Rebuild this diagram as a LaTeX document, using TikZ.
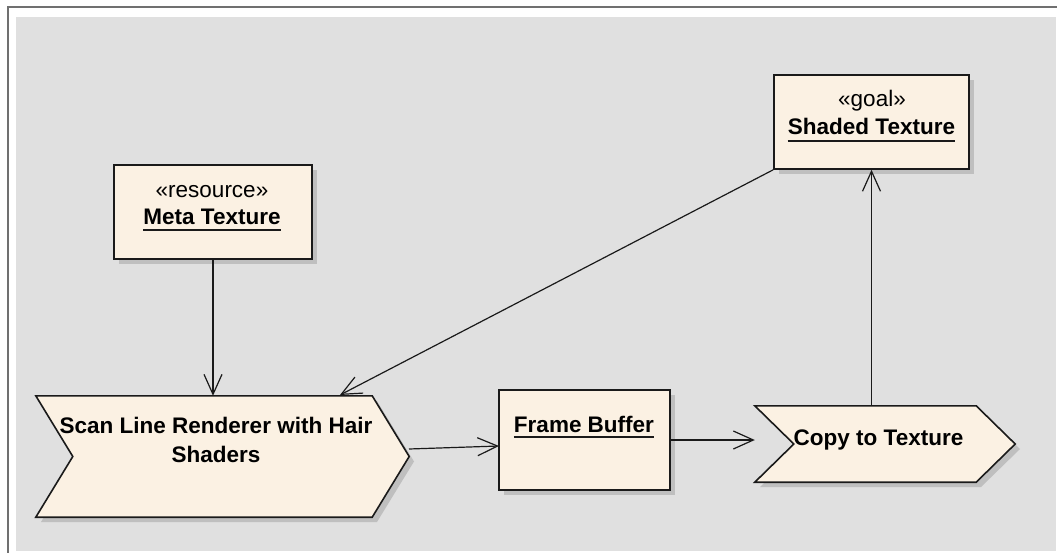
\documentclass[tikz,border=0pt]{standalone}
\usepackage{fontspec}
\setmainfont{Liberation Sans}
\usetikzlibrary{arrows.meta,calc}
\definecolor{bggray}{HTML}{E0E0E0}
\definecolor{framegray}{HTML}{707070}
\definecolor{boxfill}{HTML}{FBF1E3}
\definecolor{shadowgray}{HTML}{BFBFBF}
\definecolor{edgeblack}{HTML}{1A1A1A}
\tikzset{
  box/.style={draw=edgeblack, line width=1.6pt, fill=boxfill, inner sep=0pt},
  ghost/.style={draw=none, inner sep=0pt},
  label/.style={inner sep=0pt, anchor=base, font=\fontsize{22.5}{27}\selectfont},
  boldlabel/.style={label, font=\fontsize{22.5}{27}\selectfont\bfseries},
  conn/.style={draw=edgeblack, line width=1.2pt, -{Straight Barb[length=20pt,width=18pt,line width=1.2pt]}},
  uline/.style={draw=edgeblack, line width=1.4pt},
  shadowfill/.style={fill=shadowgray, draw=none}
}
\begin{document}
\begin{tikzpicture}[x=1pt,y=-1pt]
\useasboundingbox (0,0) rectangle (1057,556);
\fill[white] (0,0) rectangle (1057,556);
\fill[bggray] (16,17) rectangle (1056,551);
\draw[framegray, line width=2pt] (1057,7) -- (8,7) -- (8,553);

% shadows
\fill[shadowfill] (119,170) rectangle (317,264);
\fill[shadowfill] (779,80) rectangle (974,174);
\fill[shadowfill] (504,395) rectangle (675,495);
\fill[shadowfill] (41,401) -- (377,401) -- (414,461.5) -- (377,522) -- (41,522) -- (78,461.5) -- cycle;
\fill[shadowfill] (760,411) -- (981,411) -- (1020,449) -- (981,487) -- (760,487) -- (799,449) -- cycle;

% rectangular nodes
\node[box, minimum width=198pt, minimum height=94pt] (meta) at (213,212) {};
\node[box, minimum width=195pt, minimum height=94pt] (shaded) at (871.5,122) {};
\node[box, minimum width=171pt, minimum height=100pt] (fb) at (584.5,440) {};

% chevron nodes
\node[ghost, minimum width=373pt, minimum height=121pt] (scan) at (222.5,456.5) {};
\filldraw[box] (scan.north west) -- ([xshift=-37pt]scan.north east) -- (scan.east)
  -- ([xshift=-37pt]scan.south east) -- (scan.south west) -- ([xshift=37pt]scan.west) -- cycle;
\node[ghost, minimum width=260pt, minimum height=76pt] (copy) at (885,444) {};
\filldraw[box] (copy.north west) -- ([xshift=-39pt]copy.north east) -- (copy.east)
  -- ([xshift=-39pt]copy.south east) -- (copy.south west) -- ([xshift=39pt]copy.west) -- cycle;

% texts
\node[label] (metaS) at (212,197) {«resource»};
\node[boldlabel] (metaN) at (212,224) {Meta Texture};
\draw[uline] ([yshift=-6pt]metaN.base west) -- ([yshift=-6pt]metaN.base east);

\node[label] (shadedS) at (872,107) {«goal»};
\node[boldlabel] (shadedN) at (871.5,135) {Shaded Texture};
\draw[uline] ([yshift=-6pt]shadedN.base west) -- ([yshift=-6pt]shadedN.base east);

\node[boldlabel] (fbN) at (584,432) {Frame Buffer};
\draw[uline] ([yshift=-5pt]fbN.base west) -- ([yshift=-5pt]fbN.base east);

\node[boldlabel] (scanA) at (216,433) {Scan Line Renderer with Hair};
\node[boldlabel] (scanB) at (216,462) {Shaders};

\node[boldlabel] (copyN) at (878.5,445) {Copy to Texture};

% connectors
\coordinate (scanin) at (340,395);
\coordinate (scanout) at (409,449);
\coordinate (fbin) at (499,446);
\draw[conn] (meta.south) -- (meta.south |- scan.north);
\draw[conn] (shaded.south west) -- (scanin);
\draw[conn] (scanout) -- (fbin);
\draw[conn] (fb.east) -- (fb.east -| copy.west);
\draw[conn] (copy.north -| shaded.south) -- (shaded.south);
\end{tikzpicture}
\end{document}
